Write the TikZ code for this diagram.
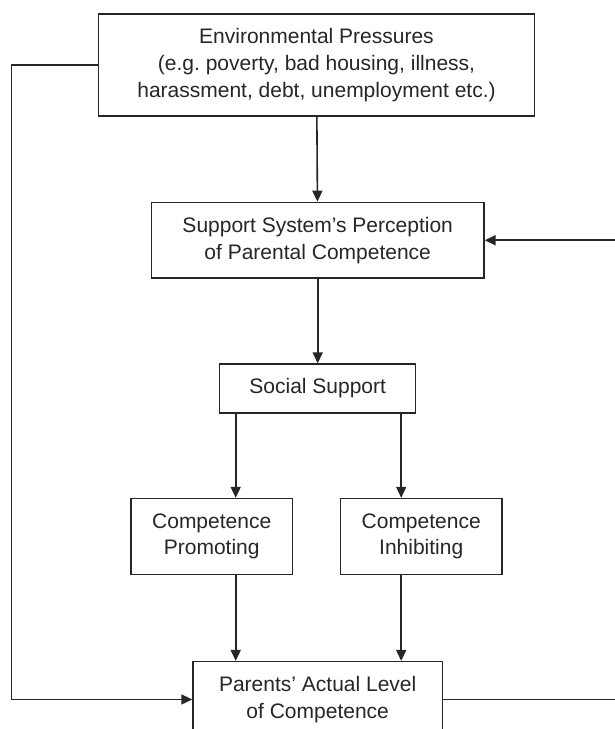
\documentclass[tikz,border=0pt]{standalone}
\usepackage{fontspec}
\setmainfont{Liberation Sans}
\usetikzlibrary{positioning, arrows.meta}

\begin{document}
\begin{tikzpicture}[x=1pt, y=1pt, color=black!85, line width=1.4pt,
        box/.style={draw, align=center, inner sep=2pt, minimum height=75.7pt, font=\fontsize{21}{26.7}\selectfont},
        arr/.style={line width=1.6pt, -{Triangle[length=11pt, width=10pt]}}]
        \useasboundingbox (0,0) rectangle (615,-729);
        \clip (0,0) rectangle (615,-729);
        \node[box, minimum width=435.6pt, minimum height=102pt] (env) at (316.5,-65) {Environmental Pressures\\(e.g.\ poverty, bad housing, illness,\\harassment, debt, unemployment etc.)};
        \node[box, minimum width=332.6pt, below = 85pt of env, xshift=1.2pt] (sup) {Support System's Perception\\of Parental Competence};
        \node[box, minimum width=196pt, minimum height=48.7pt, below = 84.6pt of sup] (soc) {Social Support};
        \node[box, minimum width=161.4pt, below = 84.3pt of soc, xshift=-106pt] (prom) {Competence\\Promoting};
        \node[box, minimum width=161.6pt, below = 84.3pt of soc, xshift=103.5pt] (inh) {Competence\\Inhibiting};
        \coordinate (m) at (prom.south -| soc);
        \node[box, minimum width=249.4pt, below = 86pt of m] (par) {Parents' Actual Level\\of Competence};
        \coordinate (l) at (11.7,0);
        \coordinate (r) at (622,0);
        \draw[arr] (env) -- (sup);
        \draw[arr] (sup) -- (soc);
        \draw[arr] ([xshift=24pt]prom.north |- soc.south) -- ([xshift=24pt]prom.north);
        \draw[arr] ([xshift=-20pt]inh.north |- soc.south) -- ([xshift=-20pt]inh.north);
        \draw[arr] ([xshift=24pt]prom.south) -- ([xshift=24pt]prom.south |- par.north);
        \draw[arr] ([xshift=-20pt]inh.south) -- ([xshift=-20pt]inh.south |- par.north);
        \draw[arr, line width=1.4pt] (env.west) -- (env.west -| l) -- (par.west -| l) -- (par.west);
        \draw[arr] (par.east) -- (par.east -| r) -- (sup.east -| r) -- (sup.east);
    \end{tikzpicture}
\end{document}
